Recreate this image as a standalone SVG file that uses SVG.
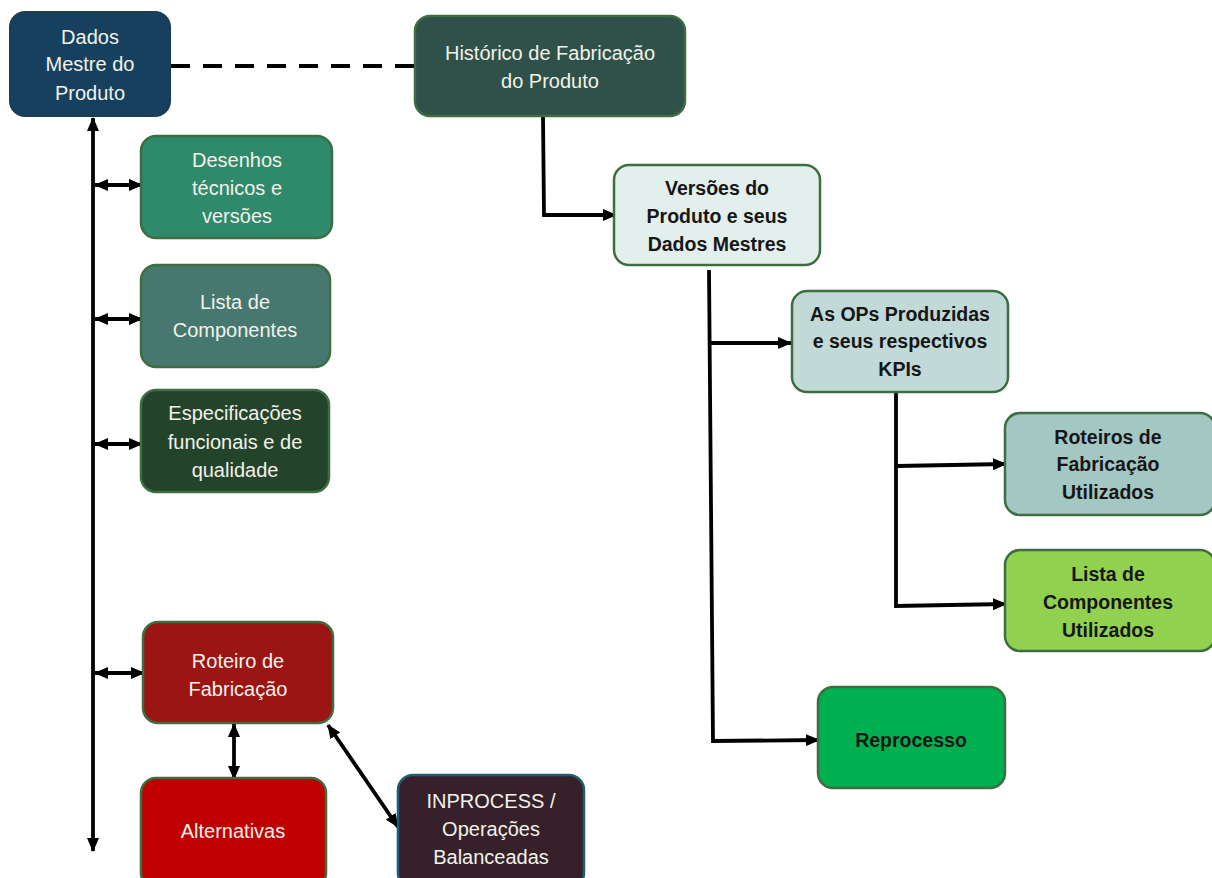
<svg xmlns="http://www.w3.org/2000/svg" width="1212" height="878" viewBox="0 0 1212 878">
<defs>
<marker id="ah" markerWidth="14" markerHeight="12" refX="13" refY="6" orient="auto-start-reverse" markerUnits="userSpaceOnUse">
<path d="M0,0 L14,6 L0,12 Z" fill="#000"/>
</marker>
<style>
.box{stroke:#3c6e41;stroke-width:2.5}
.tw{font-family:"Liberation Sans",Arial,sans-serif;font-size:20px;fill:#f2f2ea;text-anchor:middle;dominant-baseline:central}
.tb{font-family:"Liberation Sans",Arial,sans-serif;font-size:19.5px;font-weight:bold;fill:#161616;text-anchor:middle;dominant-baseline:central}
.ln{stroke:#000;stroke-width:3.8;fill:none}
</style>
</defs>
<rect width="1212" height="878" fill="#fff"/>
<g id="connectors">
<line class="ln" x1="171" y1="66" x2="414" y2="66" stroke-dasharray="19,13"/>
<line class="ln" x1="93" y1="118" x2="93" y2="851" marker-start="url(#ah)" marker-end="url(#ah)"/>
<line class="ln" x1="95" y1="185" x2="142" y2="185" marker-start="url(#ah)" marker-end="url(#ah)"/>
<line class="ln" x1="95" y1="319" x2="142" y2="319" marker-start="url(#ah)" marker-end="url(#ah)"/>
<line class="ln" x1="95" y1="444" x2="142" y2="444" marker-start="url(#ah)" marker-end="url(#ah)"/>
<line class="ln" x1="95" y1="673" x2="144" y2="673" marker-start="url(#ah)" marker-end="url(#ah)"/>
<line class="ln" x1="234" y1="724" x2="234" y2="779" marker-start="url(#ah)" marker-end="url(#ah)"/>
<line class="ln" x1="328" y1="725" x2="398" y2="827" marker-start="url(#ah)" marker-end="url(#ah)"/>
<polyline class="ln" points="543,116 544,215 616,215" marker-end="url(#ah)"/>
<polyline class="ln" points="709,270 713,741 819,740" marker-end="url(#ah)"/>
<line class="ln" x1="711" y1="343" x2="791" y2="343" marker-end="url(#ah)"/>
<polyline class="ln" points="896,392 896,606 1006,604" marker-end="url(#ah)"/>
<line class="ln" x1="897" y1="466" x2="1006" y2="464" marker-end="url(#ah)"/>
</g>
<g id="dados-mestre">
<rect x="10" y="12" width="160" height="104" rx="15" fill="#17405f" stroke="#1c3c55" stroke-width="2"/>
<text class="tw" x="90" y="37">Dados</text>
<text class="tw" x="90" y="64">Mestre do</text>
<text class="tw" x="90" y="93">Produto</text>
</g>
<g id="historico">
<rect class="box" x="415" y="16" width="270" height="100" rx="15" fill="#2f5149"/>
<text class="tw" x="550" y="53">Histórico de Fabricação</text>
<text class="tw" x="550" y="81">do Produto</text>
</g>
<g id="desenhos">
<rect class="box" x="141" y="136" width="191" height="102" rx="15" fill="#2e8a6b"/>
<text class="tw" x="237" y="160">Desenhos</text>
<text class="tw" x="237" y="188">técnicos e</text>
<text class="tw" x="237" y="216">versões</text>
</g>
<g id="lista-componentes">
<rect class="box" x="141" y="265" width="189" height="102" rx="15" fill="#47786f"/>
<text class="tw" x="235" y="302">Lista de</text>
<text class="tw" x="235" y="330">Componentes</text>
</g>
<g id="especificacoes">
<rect class="box" x="141" y="390" width="188" height="102" rx="15" fill="#24432b"/>
<text class="tw" x="235" y="413">Especificações</text>
<text class="tw" x="235" y="442">funcionais e de</text>
<text class="tw" x="235" y="470">qualidade</text>
</g>
<g id="roteiro">
<rect class="box" x="143" y="622" width="190" height="101" rx="15" fill="#9b1515"/>
<text class="tw" x="238" y="661">Roteiro de</text>
<text class="tw" x="238" y="689">Fabricação</text>
</g>
<g id="alternativas">
<rect class="box" x="141" y="778" width="185" height="110" rx="15" fill="#c00000"/>
<text class="tw" x="233" y="831">Alternativas</text>
</g>
<g id="inprocess">
<rect x="398" y="775" width="186" height="113" rx="15" fill="#36212b" stroke="#1f5c78" stroke-width="2.5"/>
<text class="tw" x="491" y="801">INPROCESS /</text>
<text class="tw" x="491" y="829">Operações</text>
<text class="tw" x="491" y="857">Balanceadas</text>
</g>
<g id="versoes">
<rect class="box" x="614" y="165" width="206" height="100" rx="15" fill="#e3efec"/>
<text class="tb" x="717" y="188">Versões do</text>
<text class="tb" x="717" y="216">Produto e seus</text>
<text class="tb" x="717" y="244">Dados Mestres</text>
</g>
<g id="ops">
<rect class="box" x="792" y="291" width="216" height="101" rx="15" fill="#c1dad8"/>
<text class="tb" x="900" y="314">As OPs Produzidas</text>
<text class="tb" x="900" y="341">e seus respectivos</text>
<text class="tb" x="900" y="369">KPIs</text>
</g>
<g id="roteiros-utilizados">
<rect class="box" x="1005" y="413" width="210" height="102" rx="15" fill="#a3c7c3"/>
<text class="tb" x="1108" y="437">Roteiros de</text>
<text class="tb" x="1108" y="464">Fabricação</text>
<text class="tb" x="1108" y="492">Utilizados</text>
</g>
<g id="lista-utilizados">
<rect class="box" x="1005" y="550" width="210" height="101" rx="15" fill="#92d050"/>
<text class="tb" x="1108" y="574">Lista de</text>
<text class="tb" x="1108" y="602">Componentes</text>
<text class="tb" x="1108" y="630">Utilizados</text>
</g>
<g id="reprocesso">
<rect class="box" x="818" y="687" width="187" height="101" rx="15" fill="#00b050"/>
<text class="tb" x="911" y="740">Reprocesso</text>
</g>
</svg>
